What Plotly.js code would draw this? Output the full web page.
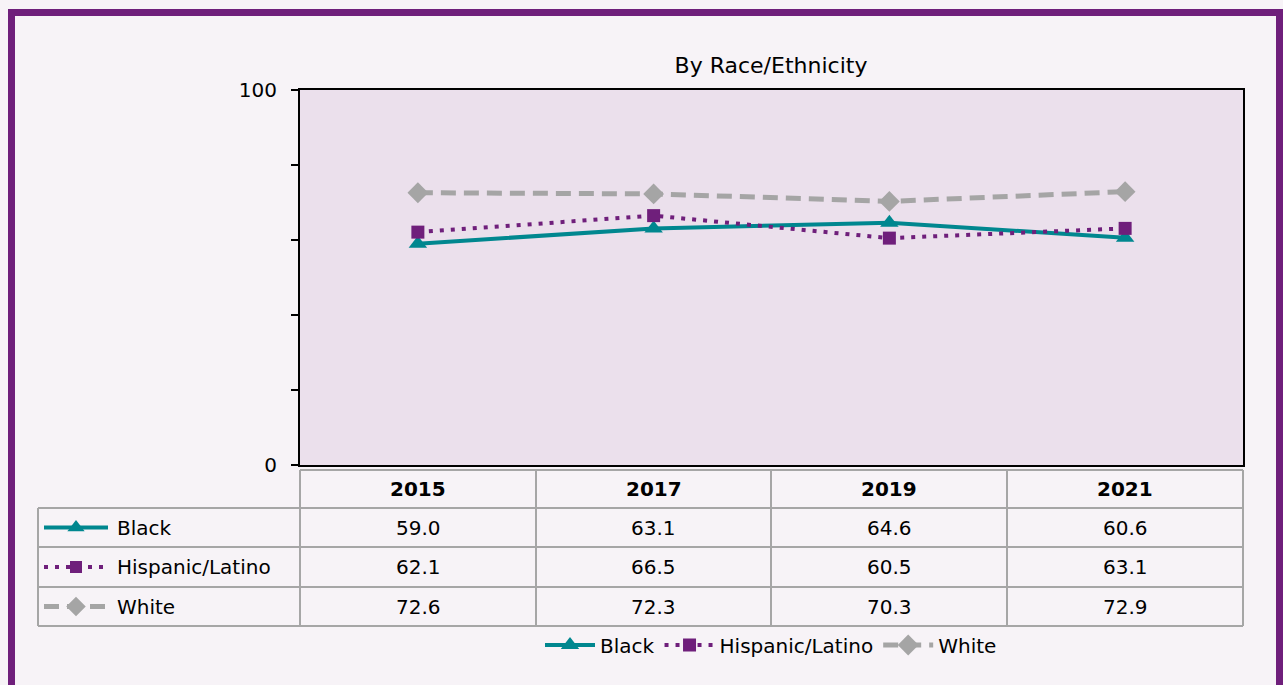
<!DOCTYPE html>
<html><head><meta charset="utf-8">
<script src="https://cdn.plot.ly/plotly-3.0.1.min.js"></script>
<style>html,body{margin:0;padding:0;background:#f7f3f7;}#chart{width:1283px;height:685px;}</style>
</head><body><div id="chart"></div>
<script>
const years = ['2015', '2017', '2019', '2021'];
const seriesNames = ['Black', 'Hispanic/Latino', 'White'];
const black = [59.0, 63.1, 64.6, 60.6];
const hispanic = [62.1, 66.5, 60.5, 63.1];
const white = [72.6, 72.3, 70.3, 72.9];
const yTickVals = [0, 20, 40, 60, 80, 100];
const yTickText = ['0', '', '', '', '', '100'];

const W = 1283, H = 685;
const FONT = 'DejaVu Sans, sans-serif';
const FS = 20;
const px = x => x / W;          // pixel -> paper x
const py = y => (H - y) / H;    // pixel -> paper y

const styles = [
  {color: '#00878f', dash: 'solid', width: 4, symbol: 'triangle-up', msize: 16},
  {color: '#6f1f7b', dash: '4px,7px', width: 4, symbol: 'square', msize: 13},
  {color: '#a5a5a5', dash: '15px,8px', width: 5, symbol: 'diamond', msize: 16}
];
const values = [black, hispanic, white];

const traces = [];
values.forEach((v, i) => {
  const s = styles[i];
  traces.push({
    type: 'scatter', mode: 'lines+markers', name: seriesNames[i],
    x: years, y: v,
    line: {color: s.color, width: s.width, dash: s.dash},
    marker: {symbol: s.symbol, size: s.msize, color: s.color},
    cliponaxis: false
  });
});

// table geometry (pixels)
const colEdges = [300, 536, 771, 1007, 1243];
const rowEdges = [470, 508, 547, 587, 626];
const leftX = 38;
const shapes = [];
// plot background
shapes.push({type: 'rect', xref: 'x domain', yref: 'y domain', x0: 0, x1: 1, y0: 0, y1: 1, fillcolor: '#ebe0ec', line: {width: 0}, layer: 'below'});
const lineStyle = {color: '#a6a6a6', width: 2};
shapes.push({type: 'line', xref: 'paper', yref: 'paper', x0: px(300), x1: px(1243), y0: py(rowEdges[0]), y1: py(rowEdges[0]), line: lineStyle});
for (let r = 1; r < rowEdges.length; r++) {
  shapes.push({type: 'line', xref: 'paper', yref: 'paper', x0: px(leftX), x1: px(1243), y0: py(rowEdges[r]), y1: py(rowEdges[r]), line: lineStyle});
}
shapes.push({type: 'line', xref: 'paper', yref: 'paper', x0: px(leftX), x1: px(leftX), y0: py(rowEdges[1]), y1: py(rowEdges[4]), line: lineStyle});
colEdges.forEach(x => shapes.push({type: 'line', xref: 'paper', yref: 'paper', x0: px(x), x1: px(x), y0: py(rowEdges[0]), y1: py(rowEdges[4]), line: lineStyle}));
// outer purple frame
shapes.push({type: 'rect', xref: 'paper', yref: 'paper', x0: px(11.5), x1: px(1279.5), y0: py(12.5), y1: py(700), line: {color: '#6f1f7b', width: 7}, layer: 'above'});

const annotations = [];
years.forEach((yr, c) => {
  const cx = (colEdges[c] + colEdges[c + 1]) / 2;
  annotations.push({xref: 'paper', yref: 'paper', x: px(cx), y: py((rowEdges[0] + rowEdges[1]) / 2), text: '<b>' + yr + '</b>', showarrow: false, xanchor: 'center', yanchor: 'middle', font: {family: FONT, size: FS, color: '#000'}});
  values.forEach((v, r) => {
    annotations.push({xref: 'paper', yref: 'paper', x: px(cx), y: py((rowEdges[r + 1] + rowEdges[r + 2]) / 2), text: v[c].toFixed(1), showarrow: false, xanchor: 'center', yanchor: 'middle', font: {family: FONT, size: FS, color: '#000'}});
  });
});
seriesNames.forEach((n, r) => {
  const cy = (rowEdges[r + 1] + rowEdges[r + 2]) / 2;
  annotations.push({xref: 'paper', yref: 'paper', x: px(115), y: py(cy), text: n, showarrow: false, xanchor: 'left', yanchor: 'middle', font: {family: FONT, size: FS, color: '#000'}});
  const s = styles[r];
  traces.push({type: 'scatter', mode: 'lines', xaxis: 'x2', yaxis: 'y2', x: [44, 108], y: [cy, cy], showlegend: false, hoverinfo: 'skip', line: {color: s.color, width: s.width, dash: s.dash}});
  traces.push({type: 'scatter', mode: 'markers', xaxis: 'x2', yaxis: 'y2', x: [76], y: [cy], showlegend: false, hoverinfo: 'skip', marker: {symbol: s.symbol, size: s.msize - 1, color: s.color}});
});

const layout = {
  width: W, height: H,
  margin: {l: 0, r: 0, t: 0, b: 0},
  paper_bgcolor: '#f7f3f7', plot_bgcolor: 'rgba(0,0,0,0)',
  font: {family: FONT, size: FS, color: '#000'},
  title: {text: 'By Race/Ethnicity', font: {family: FONT, size: 22, color: '#000'}, xref: 'paper', yref: 'paper', x: px(771), y: py(65), xanchor: 'center', yanchor: 'middle'},
  showlegend: true,
  legend: {orientation: 'h', x: px(771), xanchor: 'center', y: py(645), yanchor: 'middle', bgcolor: 'rgba(0,0,0,0)', font: {family: FONT, size: FS}, itemwidth: 50, traceorder: 'normal'},
  xaxis: {domain: [px(300), px(1243)], type: 'category', range: [-0.5, 3.5], showticklabels: false, ticks: '', showgrid: false, zeroline: false, showline: true, mirror: true, linecolor: '#000', linewidth: 2, fixedrange: true},
  yaxis: {domain: [py(465), py(90)], range: [0, 100], tickvals: yTickVals, ticktext: yTickText, ticks: 'outside', ticklen: 7, tickwidth: 1.5, tickcolor: '#000', ticklabelstandoff: 10, showgrid: false, zeroline: false, showline: true, mirror: true, linecolor: '#000', linewidth: 2, tickfont: {family: FONT, size: FS}, fixedrange: true},
  xaxis2: {domain: [0, 1], range: [0, W], visible: false, anchor: 'y2', fixedrange: true},
  yaxis2: {domain: [0, 1], range: [H, 0], visible: false, anchor: 'x2', fixedrange: true},
  shapes: shapes,
  annotations: annotations
};
Plotly.newPlot('chart', traces, layout, {displayModeBar: false, staticPlot: true});
</script></body></html>
